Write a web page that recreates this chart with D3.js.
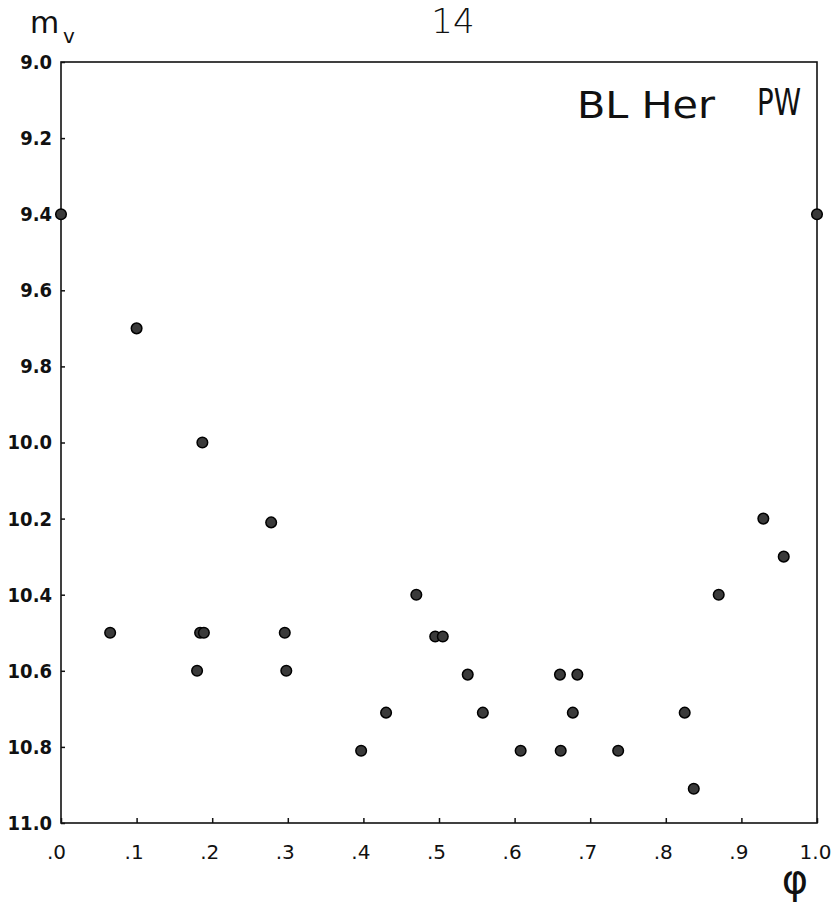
<!DOCTYPE html>
<html>
<head>
<meta charset="utf-8">
<script src="https://cdn.jsdelivr.net/npm/d3@7"></script>
<style>
  body { margin: 0; background: #fff; }
  text { fill: #111; }
</style>
</head>
<body>
<svg width="832" height="920"></svg>
<script>
/* Data */

// phase of each observation
var phase = [0.000, 1.000, 0.100, 0.187, 0.278, 0.929, 0.956, 0.870, 0.470,
             0.065, 0.184, 0.189, 0.296, 0.495, 0.505, 0.180, 0.298, 0.538,
             0.660, 0.683, 0.430, 0.558, 0.677, 0.825, 0.397, 0.608, 0.661,
             0.737, 0.837];
// visual magnitude
var mag = [9.40, 9.40, 9.70, 10.00, 10.21, 10.20, 10.30, 10.40, 10.40,
           10.50, 10.50, 10.50, 10.50, 10.51, 10.51, 10.60, 10.60, 10.61,
           10.61, 10.61, 10.71, 10.71, 10.71, 10.71, 10.81, 10.81, 10.81,
           10.81, 10.91];

var xTicks = [0, 0.1, 0.2, 0.3, 0.4, 0.5, 0.6, 0.7, 0.8, 0.9, 1.0];
var xTickLabels = [".0", ".1", ".2", ".3", ".4", ".5", ".6", ".7", ".8", ".9", "1.0"];
var yTicks = [9.0, 9.2, 9.4, 9.6, 9.8, 10.0, 10.2, 10.4, 10.6, 10.8, 11.0];

/* Setup */

var svg = d3.select("svg");
var pLeft = 61, pRight = 817, pTop = 62, pBottom = 823;

var x = d3.scaleLinear().domain([0, 1]).range([pLeft, pRight]);
var y = d3.scaleLinear().domain([9.0, 11.0]).range([pTop, pBottom]);

var font = "'DejaVu Sans', sans-serif";

/* Frame */

svg.append("rect")
  .attr("x", pLeft)
  .attr("y", pTop)
  .attr("width", pRight - pLeft)
  .attr("height", pBottom - pTop)
  .attr("fill", "none")
  .attr("stroke", "#111")
  .attr("stroke-width", 1.6);

/* Axes */

var yAxis = d3.axisLeft(y)
  .tickValues(yTicks)
  .tickFormat(d3.format(".1f"))
  .tickSizeInner(-4)
  .tickSizeOuter(0)
  .tickPadding(9);

var gy = svg.append("g")
  .attr("transform", `translate(${pLeft},0)`)
  .call(yAxis);
gy.select(".domain").remove();
gy.selectAll("line").attr("stroke", "#111").attr("stroke-width", 1.5);
gy.selectAll("text")
  .attr("font-family", "'DejaVu Sans Condensed', " + font)
  .attr("font-weight", "bold")
  .attr("font-size", 20)
  .attr("fill", "#111");

var xAxis = d3.axisBottom(x)
  .tickValues(xTicks)
  .tickFormat((d, i) => xTickLabels[i])
  .tickSizeInner(-5)
  .tickSizeOuter(0)
  .tickPadding(29);

var gx = svg.append("g")
  .attr("transform", `translate(0,${pBottom})`)
  .call(xAxis);
gx.select(".domain").remove();
gx.selectAll("line").attr("stroke", "#111").attr("stroke-width", 1.5);
gx.selectAll("text")
  .attr("font-family", font)
  .attr("font-size", 20)
  .attr("dy", "0.35em")
  .attr("dx", (d, i) => i === 0 ? -5 : i === 10 ? -2 : -3)
  .attr("fill", "#111");

/* Points */

svg.selectAll(".pt")
  .data(d3.range(phase.length))
  .enter().append("circle")
  .classed("pt", true)
  .attr("cx", (i) => x(phase[i]))
  .attr("cy", (i) => y(mag[i]))
  .attr("r", 5.3)
  .attr("fill", "#3a3a3a")
  .attr("stroke", "#000")
  .attr("stroke-width", 1.5);

/* Labels */

svg.append("text")
  .attr("x", 30).attr("y", 33)
  .attr("font-family", font)
  .attr("font-size", 30)
  .text("m");

svg.append("text")
  .attr("x", 63).attr("y", 43)
  .attr("font-family", font)
  .attr("font-size", 20)
  .text("v");

svg.append("text")
  .attr("x", 453).attr("y", 33)
  .attr("text-anchor", "middle")
  .attr("font-family", font)
  .attr("font-weight", 300)
  .attr("font-size", 34)
  .text("14");

svg.append("text")
  .attr("x", 577).attr("y", 118)
  .attr("font-family", font)
  .attr("font-size", 38)
  .attr("textLength", 138)
  .attr("lengthAdjust", "spacingAndGlyphs")
  .text("BL Her");

svg.append("text")
  .attr("x", 757).attr("y", 115)
  .attr("font-family", font)
  .attr("font-size", 37)
  .attr("textLength", 44)
  .attr("lengthAdjust", "spacingAndGlyphs")
  .text("PW");

svg.append("text")
  .attr("x", 795).attr("y", 893)
  .attr("text-anchor", "middle")
  .attr("font-family", font)
  .attr("font-size", 40)
  .text("φ");
</script>
</body>
</html>
